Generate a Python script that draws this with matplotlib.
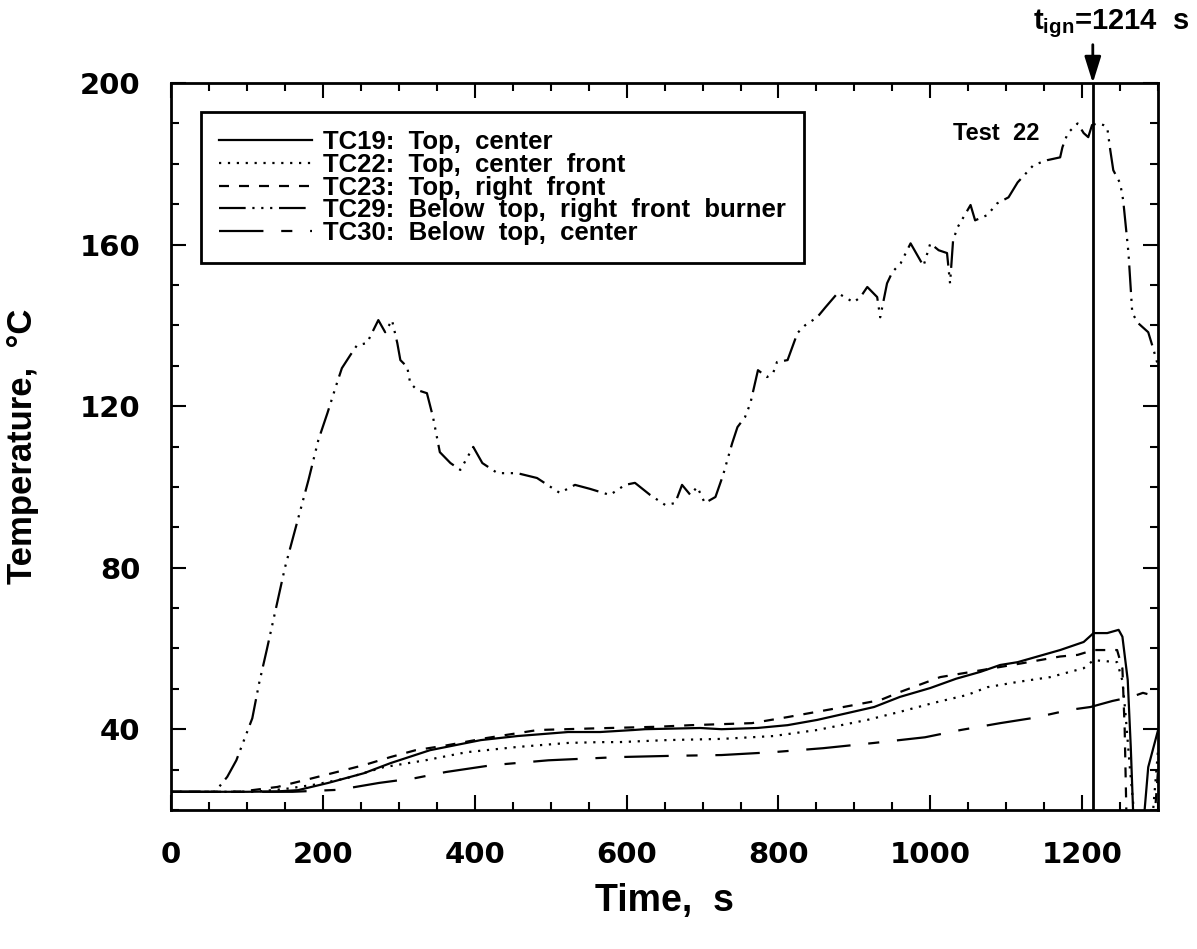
"""Test 22: range-top thermocouple temperatures up to ignition.

Five thermocouples, read off the scanned report figure. Values that fall
below the axis after ignition are simply clipped by the axes.
"""

import matplotlib

matplotlib.use("Agg")
import matplotlib.pyplot as plt  # noqa: E402
from matplotlib.ticker import MultipleLocator  # noqa: E402

T_IGN = 1214  # s, time of ignition

# TC19: top, center (solid)
TC19_T = [0, 100, 140, 167, 207, 254, 289, 341, 408, 456, 523, 565, 609, 624,
          697, 725, 772, 812, 851, 891, 926, 960, 1000, 1034, 1066, 1092, 1115,
          1171, 1202, 1215, 1233, 1248, 1253, 1260, 1264, 1268, 1280, 1287, 1300]
TC19_V = [24.5, 24.5, 24.6, 24.9, 26.7, 29.1, 31.6, 34.8, 37.3, 38.3, 39.3, 39.3,
          39.8, 40.0, 40.3, 40.0, 40.3, 41.0, 42.3, 44.0, 45.5, 48.0, 50.2, 52.5,
          54.2, 55.9, 56.6, 59.6, 61.6, 63.8, 63.8, 64.6, 62.9, 52.2, 35.6, 15.0,
          15.0, 30.6, 39.8]

# TC22: top, center front (dotted)
TC22_T = [0, 110, 150, 190, 230, 280, 335, 389, 456, 523, 565, 590, 653, 725,
          793, 851, 917, 960, 1004, 1049, 1075, 1115, 1158, 1202, 1215, 1246,
          1253, 1257, 1263, 1272, 1290, 1300]
TC22_V = [24.5, 24.5, 25.2, 26.3, 27.8, 30.6, 32.3, 34.3, 35.6, 36.6, 36.8, 36.8,
          37.3, 37.6, 38.3, 39.8, 42.3, 44.3, 46.5, 48.5, 50.4, 51.7, 52.9, 55.1,
          57.1, 56.6, 52.0, 44.0, 30.0, 12.0, 12.0, 35.0]

# TC23: top, right front (dashed)
TC23_T = [0, 90, 140, 187, 254, 289, 322, 363, 415, 483, 557, 640, 685, 765,
          812, 880, 934, 960, 1013, 1070, 1123, 1171, 1194, 1215, 1246, 1253,
          1256, 1259, 1293, 1300]
TC23_V = [24.5, 24.5, 25.7, 27.9, 31.1, 33.1, 34.8, 36.0, 37.8, 39.8, 40.2, 40.6,
          41.0, 41.5, 43.0, 45.3, 47.2, 49.2, 52.9, 54.7, 56.4, 58.0, 58.4, 59.6,
          59.6, 55.0, 40.0, 12.0, 12.0, 30.0]

# TC29: below top, right front burner (dash-dot-dot)
TC29_T = [0, 58, 74, 86, 107, 116, 126, 150, 181, 194, 206, 219, 225, 236, 245,
          258, 273, 282, 291, 298, 302, 311, 315, 324, 337, 345, 354, 368, 381,
          398, 410, 430, 456, 482, 512, 532, 552, 578, 598, 611, 631, 651, 664,
          673, 684, 693, 703, 717, 727, 739, 746, 756, 763, 773, 785, 793, 798,
          812, 825, 835, 851, 862, 878, 899, 908, 917, 930, 934, 943, 950, 961,
          974, 991, 1000, 1011, 1022, 1026, 1030, 1036, 1053, 1059, 1075, 1088,
          1103, 1115, 1136, 1154, 1171, 1174, 1181, 1194, 1202, 1208, 1213, 1220,
          1228, 1233, 1237, 1241, 1250, 1254, 1261, 1266, 1274, 1287, 1293, 1300]
TC29_V = [24.5, 24.5, 28.2, 32.3, 42.7, 51.4, 59.6, 80.0, 101.7, 111.6, 118.3,
          126.0, 129.4, 132.6, 135.1, 135.6, 141.3, 138.3, 141.3, 135.6, 131.4,
          129.7, 125.7, 124.0, 123.2, 117.3, 108.6, 105.9, 104.2, 109.9, 105.9,
          103.4, 103.4, 102.2, 98.5, 100.5, 99.5, 98.0, 100.5, 101.0, 98.0, 95.5,
          96.0, 100.5, 98.0, 100.0, 96.0, 97.5, 102.9, 110.8, 114.8, 117.3, 120.7,
          128.9, 127.2, 128.2, 130.9, 131.4, 138.1, 140.0, 142.0, 144.5, 148.0,
          145.7, 147.0, 149.5, 147.0, 142.0, 150.4, 153.2, 155.4, 160.3, 154.7,
          160.3, 158.6, 157.9, 150.4, 161.1, 164.3, 169.8, 166.0, 167.3, 170.2,
          171.7, 175.4, 179.7, 180.9, 181.6, 184.1, 187.6, 190.0, 187.6, 186.6,
          189.6, 190.0, 189.6, 189.0, 183.4, 178.4, 175.2, 171.0, 157.9, 143.0,
          140.5, 138.3, 134.6, 130.0]

# TC30: below top, center (long dash, short dash)
TC30_T = [0, 160, 221, 274, 322, 362, 423, 497, 590, 658, 725, 792, 859, 926,
          993, 1040, 1092, 1136, 1184, 1211, 1240, 1265, 1280, 1300]
TC30_V = [24.5, 24.5, 25.0, 26.7, 27.9, 29.4, 31.1, 32.3, 33.1, 33.4, 33.6, 34.3,
          35.3, 36.6, 38.0, 39.8, 41.5, 42.8, 44.8, 45.5, 47.0, 48.0, 49.0, 48.0]

LABELS = [
    "TC19:  Top,  center",
    "TC22:  Top,  center  front",
    "TC23:  Top,  right  front",
    "TC29:  Below  top,  right  front  burner",
    "TC30:  Below  top,  center",
]

# dash patterns in linewidth units; None = solid
DASHES = [
    None,
    (1.0, 3.0),
    (4.5, 4.5),
    (12, 3, 1, 3, 1, 3, 1, 3),
    (20, 8, 5, 8),
]

BOLD = {"family": "Liberation Sans", "weight": "bold"}

plt.rcParams["mathtext.fontset"] = "custom"
plt.rcParams["mathtext.bf"] = "Liberation Sans:bold"
plt.rcParams["mathtext.rm"] = "Liberation Sans:bold"

fig = plt.figure(figsize=(11.97, 9.49), dpi=100)
ax = fig.add_axes([0.1429, 0.1465, 0.8246, 0.766])

series = [(TC19_T, TC19_V), (TC22_T, TC22_V), (TC23_T, TC23_V),
          (TC29_T, TC29_V), (TC30_T, TC30_V)]
for (t, v), label, dash in zip(series, LABELS, DASHES):
    if dash is None:
        ax.plot(t, v, color="black", lw=1.6, label=label)
    else:
        ax.plot(t, v, color="black", lw=1.6, dashes=dash, label=label)

ax.set_xlim(0, 1300)
ax.set_ylim(20, 200)
ax.xaxis.set_major_locator(MultipleLocator(200))
ax.xaxis.set_minor_locator(MultipleLocator(50))
ax.yaxis.set_major_locator(MultipleLocator(40))
ax.yaxis.set_minor_locator(MultipleLocator(10))
ax.tick_params(which="both", direction="in", top=True, right=True,
               width=1.5, pad=22)
ax.tick_params(which="major", length=11, labelsize=21)
ax.tick_params(which="minor", length=6)
for lab in ax.get_xticklabels() + ax.get_yticklabels():
    lab.set_family("DejaVu Sans")
    lab.set_fontweight("bold")
for sp in ax.spines.values():
    sp.set_linewidth(2)

ax.set_xlabel("Time,  s", fontsize=27, **BOLD)
ax.set_ylabel("Temperature,  °C", fontsize=25, **BOLD)
ax.xaxis.set_label_coords(0.5, -0.1)
ax.yaxis.set_label_coords(-0.134, 0.5)

# ignition marker
ax.axvline(T_IGN, color="black", lw=2)
ax.annotate("", xy=(T_IGN, 200), xytext=(T_IGN, 209.5),
            arrowprops=dict(arrowstyle="-|>,head_length=1.6,head_width=0.5",
                            color="black", lw=2, shrinkA=0, shrinkB=0),
            annotation_clip=False)
fig.text(1033 / 1197, 1 - 29 / 949, r"$\mathbf{t_{ign}}$=1214  s",
         fontsize=21, va="baseline", **BOLD)
ax.text(1030, 185.8, "Test  22", fontsize=17, va="baseline", **BOLD)

leg = ax.legend(loc="upper left", bbox_to_anchor=(0.0304, 0.960),
                prop={"family": "Liberation Sans", "weight": "bold", "size": 18.5},
                handlelength=3.6, handletextpad=0.45, labelspacing=-0.05,
                borderpad=0.7, borderaxespad=0, fancybox=False,
                framealpha=1, edgecolor="black")
leg.get_frame().set_linewidth(2)

fig.savefig("out.png", dpi=100)
